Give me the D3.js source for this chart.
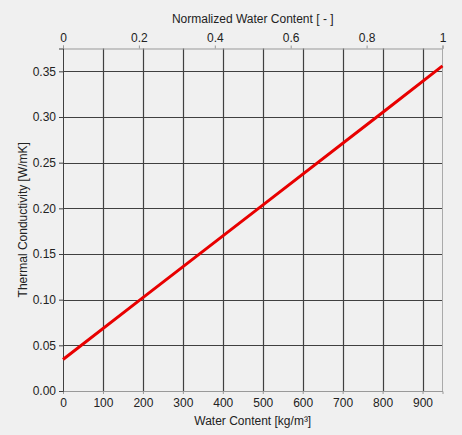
<!DOCTYPE html>
<html><head><meta charset="utf-8">
<script src="https://cdn.jsdelivr.net/npm/d3@7"></script>
<style>
html,body{margin:0;padding:0;background:#f0f0f0;}
text{font-family:"Liberation Sans",Arial,sans-serif;font-size:12px;fill:#222;}
</style></head><body>
<svg id="c" width="462" height="435"></svg>
<script>
const waterContent = [0, 200, 500, 800, 950];
const conductivity = [0.0345, 0.1022, 0.2035, 0.3049, 0.356];
const xTicks = [0,100,200,300,400,500,600,700,800,900];
const yTicks = [0,0.05,0.10,0.15,0.20,0.25,0.30,0.35];
const topTicks = [0,0.2,0.4,0.6,0.8,1];
const xMax = 950, yMax = 0.375;

const m = {l:63, r:442.5, t:48.5, b:391};
const svg = d3.select('#c');
const x = d3.scaleLinear().domain([0,xMax]).range([m.l,m.r]);
const xn = d3.scaleLinear().domain([0,1]).range([m.l,m.r]);
const y = d3.scaleLinear().domain([0,yMax]).range([m.b,m.t]);

svg.append('rect').attr('width',462).attr('height',435).attr('fill','#f0f0f0');

const g = svg.append('g');
g.selectAll('.vg').data(xTicks.slice(1)).join('line')
 .attr('x1',d=>Math.round(x(d))+0.5).attr('x2',d=>Math.round(x(d))+0.5)
 .attr('y1',m.t).attr('y2',m.b).attr('stroke','#404040').attr('stroke-width',1.2);
g.selectAll('.hg').data(yTicks.slice(1)).join('line')
 .attr('y1',d=>Math.round(y(d))+0.5).attr('y2',d=>Math.round(y(d))+0.5)
 .attr('x1',m.l).attr('x2',m.r).attr('stroke','#404040').attr('stroke-width',1.2);

const bx = d3.axisBottom(x).tickValues(xTicks).tickSize(3).tickPadding(4).tickFormat(d3.format('d'));
const ga = svg.append('g').attr('transform',`translate(0,${m.b})`).call(bx);
ga.select('.domain').attr('stroke','#999');
ga.selectAll('.tick line').attr('stroke','#999');
ga.selectAll('text').style('font-size','12px').attr('fill','#222');

const tx = d3.axisTop(xn).tickValues(topTicks).tickSize(3).tickPadding(4).tickFormat(d=>d3.format('~g')(d));
const gt = svg.append('g').attr('transform',`translate(0,${m.t})`).call(tx);
gt.select('.domain').attr('stroke','#999');
gt.selectAll('.tick line').attr('stroke','#999');
gt.selectAll('text').style('font-size','12px').attr('fill','#222');

svg.append('line').attr('x1',m.r).attr('x2',m.r).attr('y1',m.t).attr('y2',m.b).attr('stroke','#aaa');

const ly = d3.axisLeft(y).tickValues(yTicks).tickSize(4).tickPadding(3).tickFormat(d3.format('.2f'));
const gl = svg.append('g').attr('transform',`translate(${m.l},0)`).call(ly);
gl.select('.domain').attr('stroke','#404040');
gl.selectAll('.tick line').attr('stroke','#404040');
gl.selectAll('text').style('font-size','12px').attr('fill','#222');

const data = waterContent.map((w,i)=>({w, k:conductivity[i]}));
svg.append('path').datum(data)
 .attr('d', d3.line().x(d=>x(d.w)).y(d=>y(d.k)))
 .attr('fill','none').attr('stroke','#e80000').attr('stroke-width',3);

svg.append('text').attr('x',(m.l+m.r)/2).attr('y',23).attr('text-anchor','middle').text('Normalized Water Content [ - ]');
svg.append('text').attr('x',(m.l+m.r)/2).attr('y',425).attr('text-anchor','middle').text('Water Content [kg/m³]');
svg.append('text').attr('transform',`translate(27,${(m.t+m.b)/2}) rotate(-90)`).attr('text-anchor','middle').text('Thermal Conductivity [W/mK]');
</script></body></html>
